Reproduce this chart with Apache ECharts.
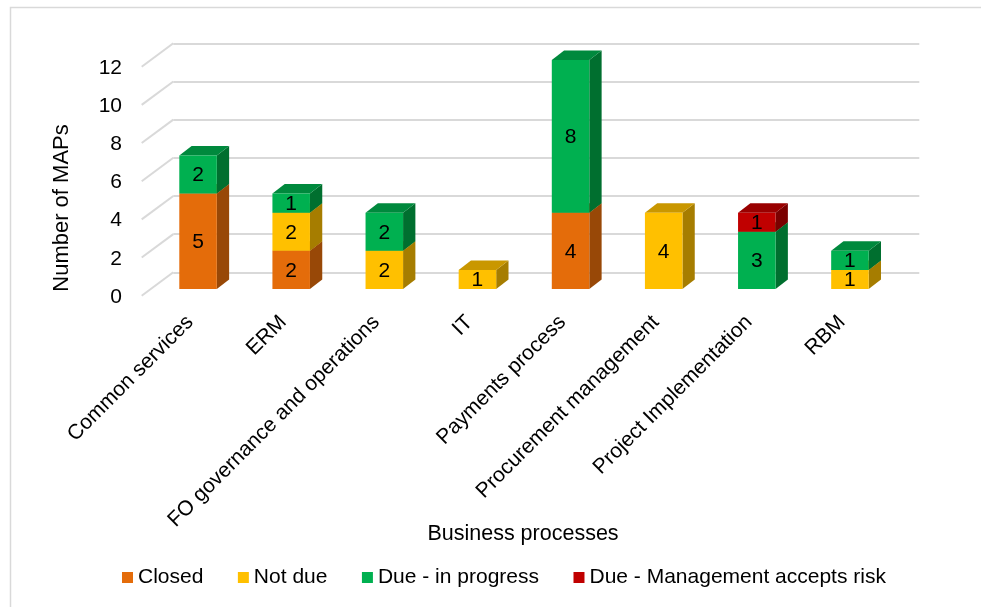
<!DOCTYPE html>
<html><head><meta charset="utf-8">
<script src="https://cdn.jsdelivr.net/npm/echarts@6/dist/echarts.min.js"></script>
<style>html,body{margin:0;padding:0;background:#fff}#c{width:981px;height:607px}</style>
</head><body><div id="c"></div>
<script>
const categories = ['Common services','ERM','FO governance and operations','IT','Payments process','Procurement management','Project Implementation','RBM'];
const closed = [5,2,0,0,4,0,0,0];
const notDue = [0,2,2,1,0,4,0,1];
const dueInProgress = [2,1,2,0,8,0,3,1];
const dueRisk = [0,0,0,0,0,0,1,0];
const yTicks = [0,2,4,6,8,10,12];
const seriesNames = ['Closed','Not due','Due - in progress','Due - Management accepts risk'];

const FONT = "'Liberation Sans', Arial, sans-serif";
const palettes = [
  {front:'#E46C0A', top:'#B85708', side:'#984807'},
  {front:'#FFC000', top:'#C99700', side:'#A67D00'},
  {front:'#00B050', top:'#00893D', side:'#006F2F'},
  {front:'#C00000', top:'#990000', side:'#7A0000'}
];
const allSeries = [closed, notDue, dueInProgress, dueRisk];
const DX = 12.3, DY = -9.5;

function makeRender(col){
  return function(params, api){
    const cat = api.value(0), v = api.value(1), base = api.value(2);
    if (!v) return null;
    const p0 = api.coord([cat, base]);
    const p1 = api.coord([cat, base + v]);
    const band = api.size([1, 0])[0];
    const w = band * 0.403;
    const x0 = p0[0] - w/2, x1 = p0[0] + w/2;
    const yb = p0[1], yt = p1[1];
    return {type:'group', children:[
      {type:'polygon', shape:{points:[[x1,yb],[x1+DX,yb+DY],[x1+DX,yt+DY],[x1,yt]]}, style:{fill:col.side}},
      {type:'polygon', shape:{points:[[x0,yt],[x1,yt],[x1+DX,yt+DY],[x0+DX,yt+DY]]}, style:{fill:col.top}},
      {type:'rect', shape:{x:x0, y:yt, width:w, height:yb-yt}, style:{fill:col.front}},
      {type:'text', style:{text:String(v), x:(x0+x1)/2, y:(yt+yb)/2+1, align:'center', verticalAlign:'middle', fontSize:21, fontFamily:FONT, fill:'#000'}}
    ]};
  };
}

const cum = categories.map(()=>0);
const barSeries = allSeries.map((vals, si) => {
  const data = vals.map((v, i) => { const d = [i, v, cum[i]]; cum[i] += v; return d; });
  return {
    name: seriesNames[si], type:'custom', xAxisIndex:0, yAxisIndex:0,
    renderItem: makeRender(palettes[si]),
    encode:{x:0, y:1},
    itemStyle:{color:palettes[si].front},
    data: data, z: 10
  };
});

const yMax = yTicks[yTicks.length-1];
const yInt = yTicks[1]-yTicks[0];

const option = {
  backgroundColor:'#fff',
  animation:false,
  grid:[
    {left:151.5, width:745, top:60, height:229},
    {left:173.3, width:746, top:43.3, height:229},
    {left:143.5, width:745, top:68, height:229}
  ],
  xAxis:[
    {type:'category', data:categories, gridIndex:0, show:false},
    {type:'value', gridIndex:1, min:0, max:1, show:false},
    {type:'category', data:categories, gridIndex:2,
      axisLine:{show:false}, axisTick:{show:false}, splitLine:{show:false},
      axisLabel:{interval:0, rotate:45, margin:22, fontSize:21, fontFamily:FONT, color:'#000'}}
  ],
  yAxis:[
    {type:'value', gridIndex:0, min:0, max:yMax, interval:yInt, show:false},
    {type:'value', gridIndex:1, min:0, max:yMax, interval:yInt,
      axisLine:{show:false}, axisTick:{show:false}, axisLabel:{show:false},
      splitLine:{show:true, lineStyle:{color:'#d9d9d9', width:2}}},
    {type:'value', gridIndex:2, min:0, max:yMax, interval:yInt,
      axisLine:{show:false}, axisTick:{show:false}, splitLine:{show:false},
      axisLabel:{margin:21.5, fontSize:21, fontFamily:FONT, color:'#000'}}
  ],
  legend:{
    left:117, top:562, itemWidth:11, itemHeight:11, itemGap:34.5, icon:'rect',
    textStyle:{fontSize:21, fontFamily:FONT, color:'#000'},
    data:seriesNames
  },
  graphic:[
    {type:'rect', shape:{x:10.5, y:7.5, width:1000, height:700}, style:{fill:null, stroke:'#d9d9d9', lineWidth:1.5}, silent:true},
    {type:'text', x:62, y:208, rotation:Math.PI/2, style:{text:'Number of MAPs', align:'center', verticalAlign:'middle', fontSize:22, fontFamily:FONT, fill:'#000'}},
    {type:'text', x:523, y:534, style:{text:'Business processes', align:'center', verticalAlign:'middle', fontSize:21.5, fontFamily:FONT, fill:'#000'}}
  ],
  series:[
    {type:'custom', xAxisIndex:1, yAxisIndex:1, encode:{y:0}, z:1, silent:true,
      data: yTicks.map(t=>[t]),
      renderItem:function(params, api){
        const p = api.coord([0, api.value(0)]);
        return {type:'line', shape:{x1:p[0], y1:p[1], x2:p[0]-31.6, y2:p[1]+23.4}, style:{stroke:'#d9d9d9', lineWidth:2}};
      }}
  ].concat(barSeries)
};
echarts.init(document.getElementById('c'), null, {renderer:'canvas'}).setOption(option);
</script></body></html>
